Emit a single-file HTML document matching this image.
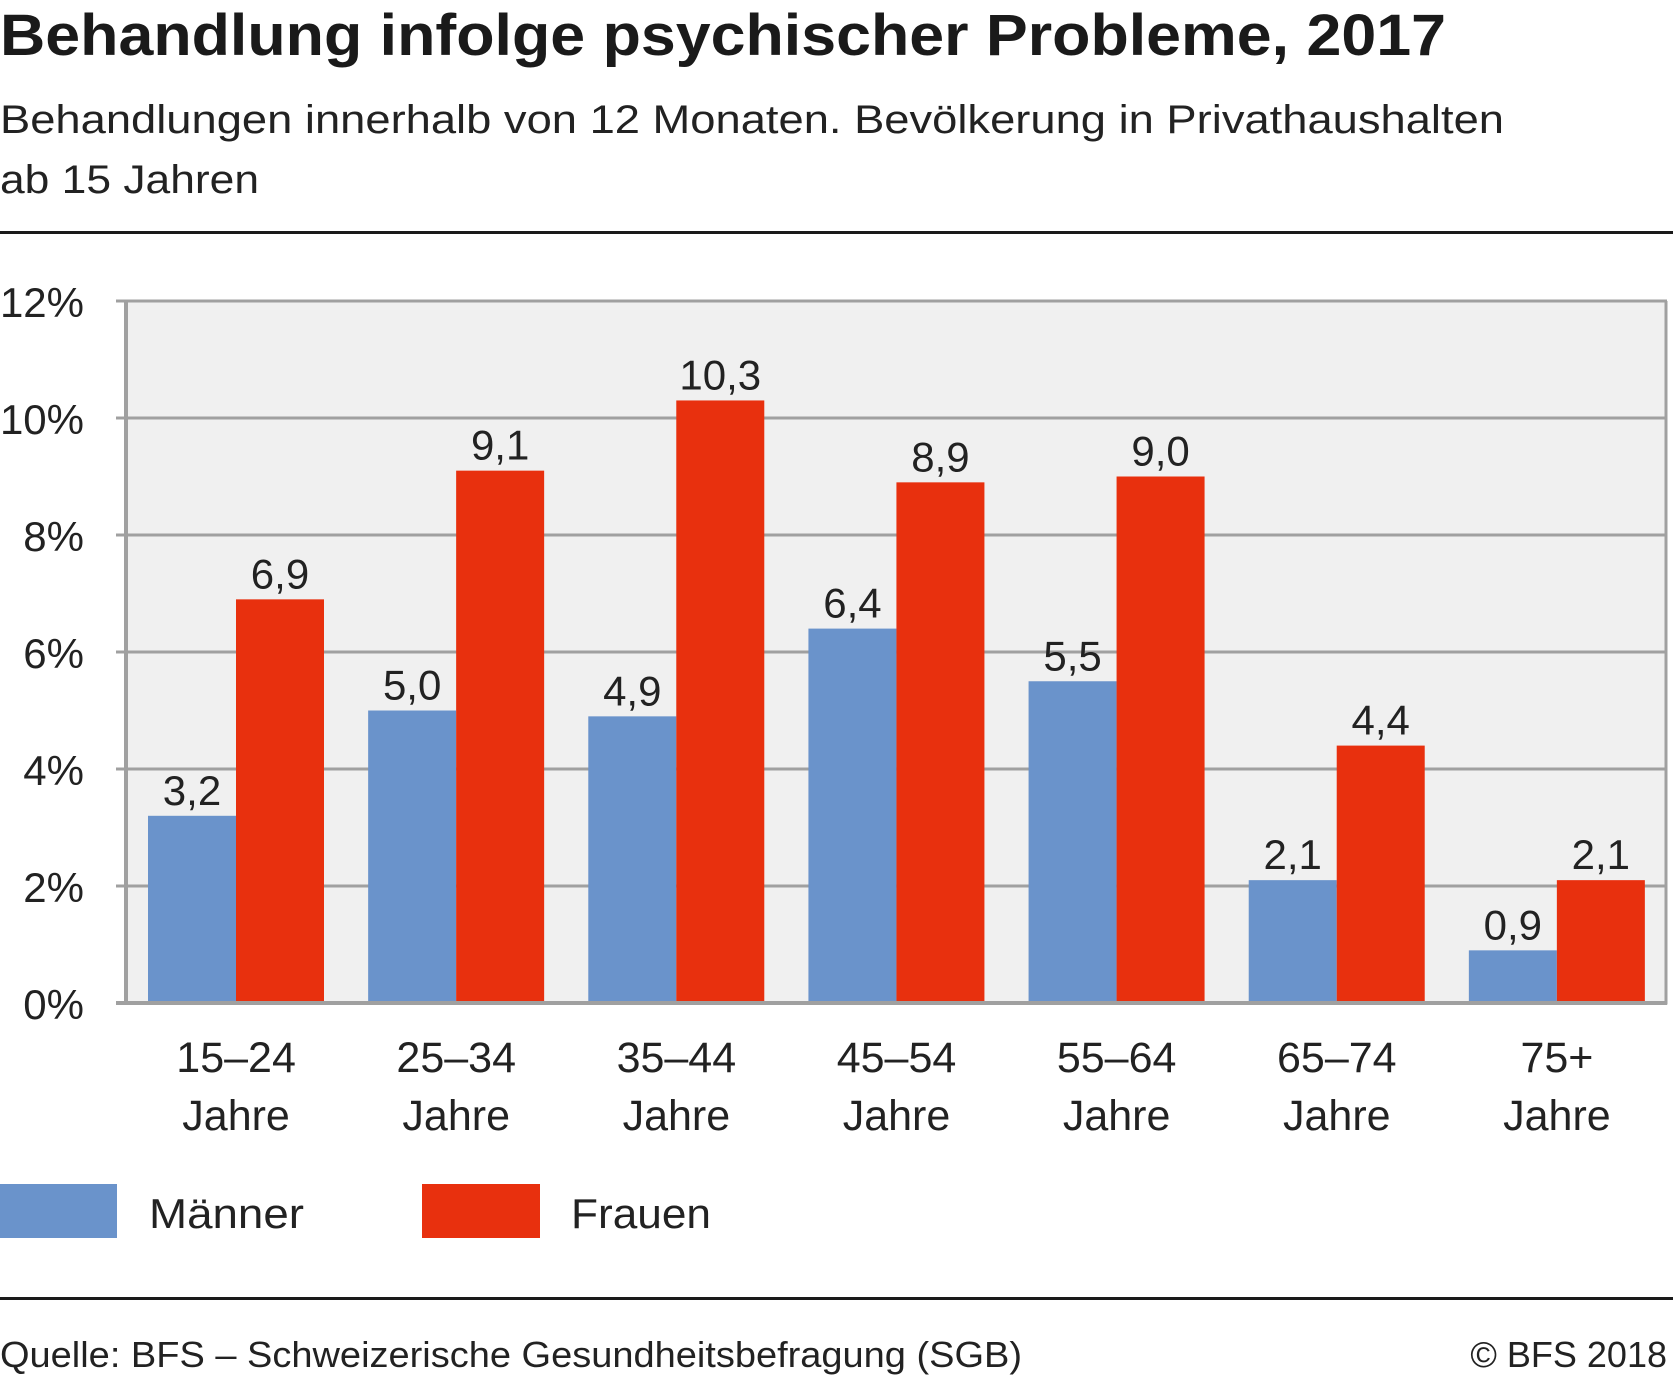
<!DOCTYPE html>
<html><head><meta charset="utf-8"><style>
html,body{margin:0;padding:0;background:#fff}
svg{display:block;font-family:"Liberation Sans",sans-serif}
</style></head><body>
<svg id="chart" width="1673" height="1378" viewBox="0 0 1673 1378">
<text x="0" y="55" font-size="58" font-weight="bold" fill="#1a1a1a" textLength="1446" lengthAdjust="spacingAndGlyphs">Behandlung infolge psychischer Probleme, 2017</text>
<text x="0" y="133" font-size="40" fill="#222" textLength="1504" lengthAdjust="spacingAndGlyphs">Behandlungen innerhalb von 12 Monaten. Bevölkerung in Privathaushalten</text>
<text x="0" y="193" font-size="40" fill="#222" textLength="259" lengthAdjust="spacingAndGlyphs">ab 15 Jahren</text>
<rect x="0" y="231" width="1673" height="3" fill="#1a1a1a"/>
<rect x="126" y="301" width="1541" height="702" fill="#f0f0f0"/>
<g id="grid"></g>
<g id="bars"></g>
<g id="labels"></g>
<rect x="0" y="1184" width="117" height="54" fill="#6a93cb"/>
<text x="149" y="1228" font-size="42" fill="#222" textLength="155" lengthAdjust="spacingAndGlyphs">Männer</text>
<rect x="422" y="1184" width="118" height="54" fill="#e8300e"/>
<text x="571" y="1228" font-size="42" fill="#222" textLength="140" lengthAdjust="spacingAndGlyphs">Frauen</text>
<rect x="0" y="1297" width="1673" height="3" fill="#1a1a1a"/>
<text x="0" y="1367" font-size="36" fill="#222" textLength="1022" lengthAdjust="spacingAndGlyphs">Quelle: BFS – Schweizerische Gesundheitsbefragung (SGB)</text>
<text x="1667" y="1367" font-size="36" fill="#222" text-anchor="end">© BFS 2018</text>
</svg>
<script>
const categories = ["15–24", "25–34", "35–44", "45–54", "55–64", "65–74", "75+"];
const maenner = [3.2, 5.0, 4.9, 6.4, 5.5, 2.1, 0.9];
const frauen = [6.9, 9.1, 10.3, 8.9, 9.0, 4.4, 2.1];
const yTicks = [0, 2, 4, 6, 8, 10, 12];

const NS = "http://www.w3.org/2000/svg";
const X0 = 126, X1 = 1667, Y0 = 1003, Y1 = 301;
const yMax = 12;
function y(v){ return Y0 - (v / yMax) * (Y0 - Y1); }
const groupW = (X1 - X0) / categories.length;
function gx(i){ return X0 + i * groupW; }
const barW = 88, pad = 22;
function mk(tag, attrs, parent){
  const e = document.createElementNS(NS, tag);
  for (const k in attrs) e.setAttribute(k, attrs[k]);
  parent.appendChild(e);
  return e;
}
const grid = document.getElementById("grid");
const bars = document.getElementById("bars");
const labels = document.getElementById("labels");
yTicks.forEach(t => {
  const line = mk("line", {x1: X0 - 10, x2: X1, y1: y(t), y2: y(t), stroke: "#a0a0a0", "stroke-width": 3}, grid);
  
  
  const tx = mk("text", {x: 84, y: y(t) + 16, "font-size": 42, fill: "#222", "text-anchor": "end"}, labels);
  tx.textContent = t + "%";
  
  
});
const ax = mk("line", {x1: X0, x2: X0, y1: Y1, y2: Y0 + 1.5, stroke: "#a0a0a0", "stroke-width": 4}, grid);


const rx = mk("line", {x1: X1 - 1, x2: X1 - 1, y1: Y1, y2: Y0 + 1.5, stroke: "#a0a0a0", "stroke-width": 3}, grid);


function fmt(v){ return v.toFixed(1).replace(".", ","); }
categories.forEach((c, i) => {
  const bx = gx(i) + pad;
  [[maenner, "#6a93cb", "maenner"], [frauen, "#e8300e", "frauen"]].forEach((s, j) => {
    const v = s[0][i];
    const x = bx + j * barW;
    const r = mk("rect", {x: x, y: y(v), width: barW, height: Y0 - y(v), fill: s[1]}, bars);
    
    
    const t = mk("text", {x: x + barW / 2, y: y(v) - 11, "font-size": 42, fill: "#222", "text-anchor": "middle"}, labels);
    t.textContent = fmt(v);
    
    
  });
  const cx = gx(i) + groupW / 2;
  const l1 = mk("text", {x: cx, y: 1072, "font-size": 43, fill: "#222", "text-anchor": "middle"}, labels);
  l1.textContent = c;
  
  
  const l2 = mk("text", {x: cx, y: 1130, "font-size": 43, fill: "#222", "text-anchor": "middle"}, labels);
  l2.textContent = "Jahre";
  
  
});
const base = mk("line", {x1: X0 - 10, x2: X1, y1: Y0, y2: Y0, stroke: "#a0a0a0", "stroke-width": 4}, labels);


</script>
</body></html>
